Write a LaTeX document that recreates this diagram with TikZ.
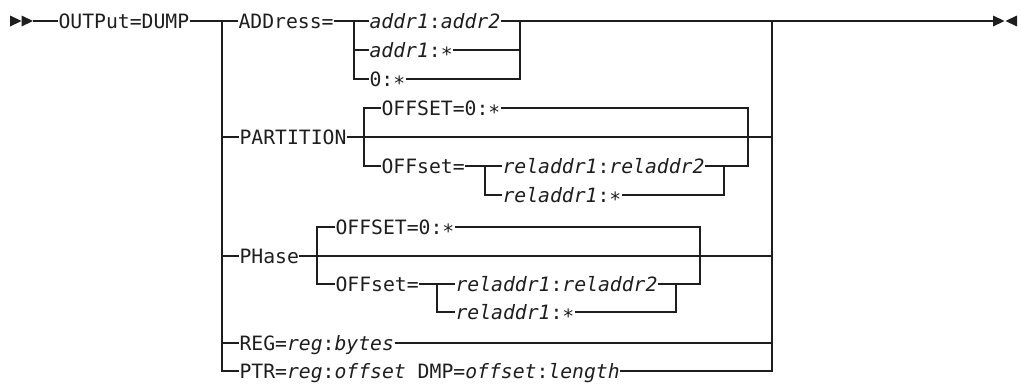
\documentclass[tikz,border=0pt]{standalone}
\usepackage{fontspec}
\newfontfamily\dmono{DejaVu Sans Mono}
\definecolor{ink}{HTML}{1E1E1E}
\newcommand\lowstar{\raisebox{-0.22em}{*}}
\begin{document}
\begin{tikzpicture}[x=0.75pt,y=-0.75pt,
  lbl/.style={anchor=west, inner sep=0.4pt, outer sep=0pt, text height=10.8pt, text depth=0pt,
    font=\dmono\fontsize{14.8pt}{16pt}\selectfont, text=ink},
  ln/.style={draw=ink, line width=0.8pt},
  tip/.style={fill=ink}]
\useasboundingbox (0,0) rectangle (1021,383);

% start and end marks
\fill[tip] (10,15.5) -- (21.5,21) -- (10,26.5) -- cycle;
\fill[tip] (21.5,15.5) -- (33,21) -- (21.5,26.5) -- cycle;
\fill[tip] (993,15.5) -- (1004.5,21) -- (993,26.5) -- cycle;
\fill[tip] (1017,15.5) -- (1005.5,21) -- (1017,26.5) -- cycle;
\coordinate (s) at (33,21);
\coordinate (e) at (993,21);

% text nodes
\node[lbl] (out) at (58,21) {OUTPut=DUMP};
\node[lbl] (addr) at (238,21) {ADDress=};
\node[lbl] (a1) at (369,21) {\textit{addr1}:\textit{addr2}};
\node[lbl] (a2) at (369,50) {\textit{addr1}:\lowstar};
\node[lbl] (a3) at (369,79) {0:\lowstar};
\node[lbl] (part) at (239,137) {PARTITION};
\node[lbl] (pdef) at (381,108) {OFFSET=0:\lowstar};
\node[lbl] (poff) at (381,166) {OFFset=};
\node[lbl] (pr1) at (502,166) {\textit{reladdr1}:\textit{reladdr2}};
\node[lbl] (pr2) at (502,195) {\textit{reladdr1}:\lowstar};
\node[lbl] (phase) at (239,256) {PHase};
\node[lbl] (hdef) at (335,227) {OFFSET=0:\lowstar};
\node[lbl] (hoff) at (335,284) {OFFset=};
\node[lbl] (hr1) at (455,284) {\textit{reladdr1}:\textit{reladdr2}};
\node[lbl] (hr2) at (455,312) {\textit{reladdr1}:\lowstar};
\node[lbl] (reg) at (239,343) {REG=\textit{reg}:\textit{bytes}};
\node[lbl] (ptr) at (239,371) {PTR=\textit{reg}:\textit{offset} DMP=\textit{offset}:\textit{length}};

% junction coordinates
\coordinate (j0) at (222,21);
\coordinate (jR) at (772,21);
\coordinate (jAl) at (354,21);
\coordinate (jAr) at (520,21);
\coordinate (pL) at (364,137);
\coordinate (pR) at (748,137);
\coordinate (pIL) at (485,166);
\coordinate (pIR) at (724,166);
\coordinate (hL) at (317,256);
\coordinate (hR) at (700,256);
\coordinate (hIL) at (437,284);
\coordinate (hIR) at (676,284);

% main line
\draw[ln] (s) -- (out.west);
\draw[ln] (out.east) -- (addr.west);
\draw[ln] (a1.east) -- (e);

% left and right main rails
\draw[ln] (j0) |- (ptr.west);
\draw[ln] (j0 |- part.west) -- (part.west);
\draw[ln] (j0 |- phase.west) -- (phase.west);
\draw[ln] (j0 |- reg.west) -- (reg.west);
\draw[ln] (ptr.east) -| (jR);
\draw[ln] (reg.east) -- (reg.east -| jR);
\draw[ln] (part.east) -- (part.east -| jR);
\draw[ln] (phase.east) -- (phase.east -| jR);

% ADDress group
\draw[ln] (addr.east) -- (a1.west);
\draw[ln] (jAl) |- (a3.west);
\draw[ln] (jAl |- a2.west) -- (a2.west);
\draw[ln] (a3.east) -| (jAr);
\draw[ln] (a2.east) -- (a2.east -| jAr);

% PARTITION group
\draw[ln] (pdef.west) -| (pL) |- (poff.west);
\draw[ln] (pdef.east) -| (pR) |- (pr1.east);
\draw[ln] (poff.east) -- (pr1.west);
\draw[ln] (pIL) |- (pr2.west);
\draw[ln] (pr2.east) -| (pIR);

% PHase group
\draw[ln] (hdef.west) -| (hL) |- (hoff.west);
\draw[ln] (hdef.east) -| (hR) |- (hr1.east);
\draw[ln] (hoff.east) -- (hr1.west);
\draw[ln] (hIL) |- (hr2.west);
\draw[ln] (hr2.east) -| (hIR);
\end{tikzpicture}
\end{document}
